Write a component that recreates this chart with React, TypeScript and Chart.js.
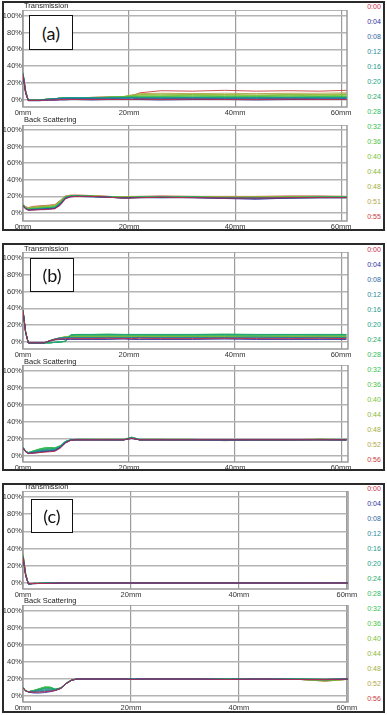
import React, { useEffect, useRef } from 'react';
import { Chart, registerables } from 'chart.js';
Chart.register(...registerables);

// ---------- data ----------
const POSITIONS_MM = [0, 0.5, 1, 2, 3, 4, 5, 6, 7, 8, 9, 10, 13, 16, 19, 20.5, 22, 26, 32, 38, 44, 50, 56, 61];
const X_TICKS_MM = [0, 20, 40, 60];
const Y_TICKS_PCT = [0, 20, 40, 60, 80, 100];

const TIMES_A = ['0:00', '0:04', '0:08', '0:12', '0:16', '0:20', '0:24', '0:28', '0:32', '0:36', '0:40', '0:44', '0:48', '0:51', '0:55'];
const TIMES_B = ['0:00', '0:04', '0:08', '0:12', '0:16', '0:20', '0:24', '0:28', '0:32', '0:36', '0:40', '0:44', '0:48', '0:52', '0:56'];
const TIMES_C = ['0:00', '0:04', '0:08', '0:12', '0:16', '0:20', '0:24', '0:28', '0:32', '0:36', '0:40', '0:44', '0:48', '0:52', '0:56'];

const SERIES_COLORS = ['#c22c48', '#2e2e9e', '#2d669f', '#248898', '#1f998e', '#20a284', '#22aa62', '#2cba58', '#34c04e', '#4cc042', '#78c034', '#8cb638', '#a0ae40', '#b2a64c', '#c83a3a'];

const A_TRANSMISSION = [
  [30, 8, -1, -1, -1, -1, -0.5, -0.5, 0, 0, 0, 0, 0, 0, 0, 0, 0.5, 0, 0.5, 0, 0, 0.5, 0, 0],
  [28, 7, -1.5, -1.5, -1.5, -1, -1, -1, -0.5, -0.5, 0, 0, -0.5, 0, 0, 0, 0, -0.5, 0, 0, -0.5, 0, 0, 0],
  [31, 9, -1, -1, -1, -0.5, 0, 0.5, 1, 1, 1, 1, 1, 1, 1.5, 1.5, 1, 1, 1.5, 1, 1, 1.5, 1, 1],
  [29, 8, -1, -1, -1, -0.5, 0, 0.5, 1, 1.5, 1.5, 1.5, 1.5, 1.5, 1.5, 2, 1.5, 1.5, 1.5, 1.5, 2, 1.5, 1.5, 1.5],
  [30, 9, -1, -1, -1, -0.5, 0.5, 1, 1.5, 1.5, 2, 2, 1.5, 2, 2, 2, 2, 2, 2, 1.5, 2, 2, 2, 2],
  [32, 10, -1, -1, -1, 0, 0.5, 1, 1.5, 2, 2, 2, 2, 2, 2, 2.5, 2, 2, 2, 2, 2, 2, 2.5, 2],
  [30, 9, -1, -1, -1, 0, 0.5, 1, 1.5, 2, 2, 2, 2, 2.5, 2.5, 2.5, 2.5, 2, 2.5, 2.5, 2, 2.5, 2.5, 2.5],
  [29, 8, -1, -1, -0.5, 0, 0.5, 1, 1.5, 2, 2, 2, 2, 2.5, 2.5, 2.5, 2.5, 2.5, 2.5, 2.5, 2.5, 2.5, 2.5, 2.5],
  [31, 9, -1, -1, -0.5, 0, 0.5, 1, 1.5, 2, 2, 2, 2, 2.5, 2.5, 3, 3, 3, 3, 3, 3, 3, 3, 3],
  [30, 9, -1, -1, -0.5, 0, 0.5, 1, 1.5, 1.5, 2, 2, 2, 2.5, 3, 3.5, 3.5, 3.5, 4, 3.5, 3.5, 4, 3.5, 3.5],
  [30, 9, -1, -1, -0.5, 0, 0.5, 1, 1.5, 1.5, 2, 2, 2, 2.5, 3, 4, 4.5, 4.5, 5, 4.5, 4.5, 5, 4.5, 5],
  [31, 10, -1, -1, -0.5, 0, 0.5, 1, 1.5, 1.5, 2, 2, 2, 2.5, 3.5, 4.5, 5.5, 5.5, 6, 5.5, 5, 6, 5.5, 6],
  [30, 9, -1, -1, -0.5, 0, 0.5, 1, 1.5, 1.5, 2, 2, 2.5, 3, 3.5, 5, 6, 6.5, 6.5, 6, 6.5, 6.5, 6, 7],
  [31, 10, -1, -1, -0.5, 0, 0.5, 1, 1.5, 1.5, 2, 2, 2.5, 3, 3.5, 5.5, 7, 7.5, 7, 7.5, 7, 7.5, 7.5, 8],
  [32, 11, -1, -1, -0.5, 0, 0.5, 1, 1.5, 1.5, 2, 2, 2.5, 3, 3.5, 4, 8, 10.5, 10, 11, 10, 10.5, 10, 11],
];

const A_BACKSCATTER = [
  [8, 5, 3.5, 3.5, 4, 4, 4.5, 5, 9, 17, 19.5, 20, 20, 19, 18, 18, 18.5, 19, 18.5, 18, 18, 18.5, 18.5, 18.5],
  [8.5, 5, 3.5, 4, 4, 4.5, 5, 5.5, 10, 17.5, 19.5, 20, 20, 19, 18, 18.5, 18.5, 18.5, 18.5, 17.5, 16.5, 18, 18.5, 18.5],
  [9, 5, 3.5, 4, 4.5, 4.5, 5, 5.5, 10, 18, 20, 20, 19.5, 19, 18, 18.5, 18.5, 19, 18.5, 18, 17.5, 18, 18.5, 18.5],
  [9, 5.5, 4, 4, 4.5, 5, 5, 6, 10.5, 18, 20, 20, 19.5, 19, 18, 18, 18.5, 18.5, 18.5, 18, 18, 18, 18.5, 18.5],
  [9, 5.5, 4, 4.5, 5, 5, 5.5, 6, 11, 18, 20, 20, 20, 19, 18.5, 18.5, 19, 18.5, 19, 18, 18, 18.5, 18.5, 18.5],
  [9.5, 5.5, 4, 4.5, 5, 5.5, 5.5, 6.5, 11, 18.5, 20, 20, 20, 19, 18.5, 18.5, 19, 19, 19, 18.5, 18, 18.5, 19, 19],
  [9.5, 5.5, 4, 4.5, 5, 5.5, 6, 6.5, 11.5, 18.5, 20, 20.5, 20, 19, 18.5, 18.5, 19, 19, 19, 18.5, 18.5, 18.5, 19, 19],
  [9.5, 6, 4.5, 5, 5.5, 6, 6, 7, 12, 19, 20, 20.5, 20, 19.5, 18.5, 18.5, 19, 19, 19, 18.5, 18.5, 18.5, 19, 19],
  [10, 6, 4.5, 5, 5.5, 6, 6.5, 7, 12, 19, 20.5, 20.5, 20, 19.5, 18.5, 19, 19, 19, 19, 18.5, 18.5, 19, 19, 19],
  [10, 6, 5, 5.5, 6, 6.5, 7, 7.5, 12.5, 19, 20.5, 20.5, 20, 19.5, 19, 19, 19, 19.5, 19, 18.5, 18.5, 19, 19, 19],
  [10, 6.5, 5, 6, 6.5, 7, 7.5, 8, 13, 19.5, 20.5, 21, 20.5, 19.5, 19, 19, 19.5, 19.5, 19.5, 19, 19, 19, 19.5, 19.5],
  [10, 6.5, 5.5, 6.5, 7, 7.5, 8, 8.5, 13.5, 19.5, 21, 21, 20.5, 19.5, 19, 19, 19.5, 19.5, 19.5, 19, 19, 19.5, 19.5, 19.5],
  [10.5, 7, 6, 7, 7.5, 8, 8.5, 9, 14, 20, 21, 21, 20.5, 20, 19, 19.5, 19.5, 20, 19.5, 19, 19.5, 19.5, 19.5, 19.5],
  [10.5, 7, 6, 7.5, 8, 8.5, 9, 9.5, 14.5, 20, 21, 21.5, 21, 20, 19.5, 19.5, 20, 20, 20, 19.5, 19.5, 20, 20, 20],
  [11, 7.5, 6.5, 8, 8.5, 9, 9.5, 10, 15, 20.5, 21.5, 21.5, 21, 20, 19.5, 20, 20, 20.5, 20, 20, 20, 20.5, 20.5, 20],
];

const B_TRANSMISSION = [
  [38, 12, -1, -1, -1, -1, 1.5, 3, 3.5, 4, 4, 4, 4, 4.5, 4, 4, 4.5, 4, 4, 4.5, 4, 4, 4.5, 4],
  [36, 11, -1, -1, -1, -1, 1, 2.5, 3, 3, 3, 3, 3, 3, 3.5, 3, 3, 3, 3, 3.5, 3, 3, 3, 3],
  [37, 12, -1, -1, -1, -1, 1.5, 3, 4, 4.5, 4.5, 4.5, 4.5, 4.5, 4.5, 4.5, 5, 4.5, 4.5, 4.5, 4.5, 5, 4.5, 4.5],
  [38, 12, -1, -1, -1, -1, 1.5, 3.5, 4.5, 5, 5, 5, 5, 5, 5, 5, 5, 5, 5.5, 5, 5, 5, 5.5, 5],
  [36, 11, -1, -1, -1, -1, 1.5, 3.5, 5, 5.5, 5.5, 5.5, 5.5, 5.5, 5.5, 5.5, 5.5, 5.5, 5.5, 5.5, 6, 5.5, 5.5, 5.5],
  [37, 12, -1, -1, -1, -1, -1, -0.5, 0, 1, 8, 8.5, 8.5, 8.5, 8.5, 8.5, 8.5, 8.5, 8.5, 8.5, 8.5, 8.5, 8.5, 8.5],
  [38, 12, -1, -1, -1, -1, -1, -0.5, 0, 1, 8.5, 9, 9, 9, 9, 9, 9, 9, 9, 9, 9, 9, 9, 9],
  [37, 11, -1, -1, -1, -1, -1, -0.5, 0, 1, 8.5, 9, 9, 9.5, 9, 9, 9, 9, 9, 9.5, 9, 9, 9, 9],
  [36, 11, -1, -1, -1, -1, -1, -0.5, 0, 1, 8, 8.5, 8.5, 8.5, 8.5, 8.5, 8.5, 8.5, 8.5, 8.5, 8.5, 8.5, 9, 8.5],
  [38, 12, -1, -1, -1, -1, -1, -0.5, 0, 0.5, 7.5, 8, 8, 8, 8, 8, 8, 8, 8, 8, 8, 8.5, 8, 8],
  [37, 12, -1, -1, -1, -1, 0.5, 2.5, 4.5, 6, 7, 7, 7, 7, 7, 7, 7, 7.5, 7, 7, 7, 7, 7.5, 7],
  [36, 11, -1, -1, -1, -1, 1, 3, 5, 6.5, 7, 7, 7, 7, 7, 7, 7, 7, 7, 7, 7, 7, 7, 7],
  [38, 12, -1, -1, -1, -1, 1, 3.5, 5, 6, 6.5, 6.5, 6.5, 6.5, 6.5, 6.5, 6.5, 6.5, 6.5, 6.5, 6.5, 6.5, 6.5, 6.5],
  [37, 11, -1, -1, -1, -1, 1.5, 3.5, 5, 6, 6, 6, 6, 6, 6, 6, 6, 6, 6, 6, 6, 6, 6, 6],
  [36, 11, -1, -1, -1, -1, 1.5, 3.5, 5, 5.5, 6, 6, 5.5, 6, 6, 5.5, 6, 6, 6, 5.5, 6, 6, 5.5, 6],
];

const B_BACKSCATTER = [
  [9.5, 5, 3, 3.5, 4, 4.5, 5, 5.5, 9, 15, 18.5, 19, 19, 19, 19, 21, 19, 19, 19, 19, 19, 19, 19, 19],
  [9.5, 5, 3, 3.5, 4, 5, 5.5, 6, 10, 15.5, 18.5, 19, 19, 19, 19, 20.5, 19, 19, 19, 19, 19, 19, 19, 19],
  [9.5, 5, 3, 4, 5, 5.5, 6, 6.5, 10, 16, 18.5, 19, 19, 19, 19, 21, 19, 19, 19, 18.5, 19, 19, 19.5, 19],
  [9.5, 5, 3.5, 4, 5, 6, 6.5, 7, 10.5, 16, 19, 19, 19, 19, 19, 21, 19, 19, 19, 19, 19, 19, 19, 19],
  [10, 5.5, 3.5, 4.5, 6, 6.5, 7, 7.5, 11, 16.5, 19, 19, 19, 19, 19, 21.5, 19, 19, 19, 19, 19, 19, 19, 19],
  [10, 5.5, 3.5, 5, 6.5, 7.5, 8, 8, 11, 17, 19, 19.5, 19.5, 19, 19, 21.5, 19, 19, 19, 18.5, 19, 19, 19, 19],
  [10, 5.5, 3.5, 5.5, 7, 8, 9, 9, 11.5, 17, 19, 19.5, 19.5, 19.5, 19.5, 22, 19.5, 19.5, 19, 19, 19, 19, 19, 19],
  [10, 6, 4, 6, 7.5, 9, 9.5, 9, 12, 17, 19, 19.5, 19.5, 19.5, 19.5, 22, 19.5, 19.5, 19.5, 19, 19, 19, 19.5, 19],
  [10, 6, 4, 6, 8, 9.5, 10, 9.5, 12, 17, 19, 19.5, 19.5, 19.5, 19.5, 22, 19.5, 19.5, 19.5, 19, 19, 19, 19.5, 19.5],
  [10, 6, 4, 6, 8, 9.5, 10, 9.5, 12, 17, 19, 19.5, 19.5, 19.5, 19.5, 22, 19.5, 19.5, 19.5, 18, 19, 19, 19.5, 19.5],
  [10, 5.5, 3.5, 5, 7, 8, 8.5, 8.5, 11.5, 17, 19, 19.5, 19.5, 19.5, 19.5, 21.5, 19.5, 19.5, 19.5, 19, 19, 19, 19.5, 19.5],
  [9.5, 5.5, 3.5, 4.5, 6, 7, 7.5, 8, 11, 16.5, 19, 19.5, 19, 19, 19, 21.5, 19, 19, 19, 19, 19, 19, 19.5, 19],
  [9.5, 5, 3, 4, 5.5, 6.5, 7, 7.5, 11, 16.5, 19, 19, 19, 19, 19, 21, 19, 19, 19, 19, 19, 19, 20, 19],
  [9.5, 5, 3, 4, 5, 6, 6.5, 7, 10.5, 16, 18.5, 19, 19, 19, 19, 21, 19, 19, 19, 19, 19, 19, 19.5, 19],
  [9.5, 5, 3, 3.5, 4.5, 5.5, 6, 6.5, 10, 16, 18.5, 19, 19, 19, 19, 21, 19, 19, 19, 19, 19, 19, 19, 19],
];

const C_TRANSMISSION = [
  [30, 9, -1, -0.5, -0.5, -0.5, -0.5, 0, 0, 0, 0, 0, 0, 0, 0, 0, 0, 0, 0, 0, 0, 0, 0, 0],
  [29, 8, -1, -1, -0.5, -0.5, -0.5, -0.5, 0, 0, 0, 0, 0, 0, 0, 0, 0, 0, 0, 0, 0, 0, 0, 0],
  [31, 9, -1, -0.5, -0.5, -0.5, 0, 0, 0, 0, 0, 0, 0, 0, 0, 0, 0, 0, 0, 0, 0, 0, 0, 0],
  [30, 9, -1, -0.5, -0.5, -0.5, 0, 0, 0, 0, 0, 0, 0, 0, 0, 0, 0, 0, 0, 0, 0, 0, 0.5, 0.5],
  [32, 10, -1, -0.5, -0.5, -0.5, 0, 0, 0, 0, 0, 0, 0, 0, 0, 0, 0, 0, 0, 0, 0, 0, 0.5, 0.5],
  [30, 9, -1, -0.5, -0.5, 0, 0, 0, 0, 0, 0, 0, 0, 0, 0, 0, 0, 0, 0, 0, 0, 0, 0, 0.5],
  [31, 9, -1, -0.5, -0.5, 0, 0, 0, 0, 0, 0, 0, 0, 0, 0, 0, 0, 0, 0, 0, 0, 0, 0, 0],
  [30, 9, -1, -0.5, -0.5, 0, 0, 0, 0, 0, 0, 0, 0, 0, 0, 0, 0, 0, 0, 0, 0, 0, 0, 0],
  [32, 10, -1, -0.5, -0.5, 0, 0, 0, 0, 0, 0, 0, 0, 0, 0, 0, 0, 0, 0, 0, 0, 0, 0, 0],
  [31, 9, -1, -0.5, -0.5, 0, 0, 0, 0, 0, 0, 0, 0, 0, 0, 0, 0, 0, 0, 0, 0, 0, 0, 0],
  [33, 10, -1, -0.5, -0.5, 0, 0, 0, 0, 0, 0, 0, 0, 0, 0, 0, 0, 0, 0, 0, 0, 0, 0, 0],
  [32, 10, -1, -0.5, -0.5, 0, 0, 0, 0, 0, 0, 0, 0, 0, 0, 0, 0, 0, 0, 0, 0, 0, 0, 0],
  [34, 11, -1, -0.5, -0.5, 0, 0, 0, 0, 0, 0, 0, 0, 0, 0, 0, 0, 0, 0, 0, 0, 0, 0, 0],
  [35, 11, -1, -0.5, -0.5, 0, 0, 0, 0, 0, 0, 0, 0, 0, 0, 0, 0, 0, 0, 0, 0, 0, 0, 0],
  [33, 10, -1, -0.5, -0.5, 0, 0, 0, 0, 0, 0, 0, 0, 0, 0, 0, 0, 0, 0, 0, 0, 0, 0, 0],
];

const C_BACKSCATTER = [
  [9.5, 6, 5, 4.5, 4.5, 5, 5.5, 6.5, 9, 14.5, 18.5, 20, 20, 20, 20, 19.5, 20, 20, 20, 19.5, 20, 19.5, 19.5, 20],
  [9.5, 6, 4.5, 3.5, 3.5, 4, 5, 6.5, 9, 14.5, 18.5, 20, 20, 20, 20, 19.5, 20, 20, 20, 19.5, 20, 19.5, 19, 20],
  [9.5, 6, 5, 4.5, 5, 5.5, 6, 6.5, 9, 14.5, 18.5, 20, 20, 20, 20, 19.5, 20, 20, 20, 19.5, 20, 19.5, 19.5, 20],
  [9.5, 6, 5, 5, 6, 6.5, 6.5, 7, 9, 14.5, 18.5, 20, 20, 20, 20, 20, 20, 20, 20, 19.5, 20, 19.5, 19.5, 20],
  [9.5, 6, 5, 5.5, 6.5, 7.5, 7.5, 7, 9, 14.5, 18.5, 20, 20, 20, 20, 20, 20, 20, 20, 19.5, 20, 20, 19.5, 20],
  [10, 6, 5, 6, 7, 8.5, 8.5, 7.5, 9, 14.5, 18.5, 20, 20, 20, 20, 20, 20, 20, 20, 20, 20, 20, 19.5, 20],
  [10, 6, 5, 6, 7.5, 9, 9.5, 8, 9.5, 15, 19, 20, 20, 20, 20, 20, 20, 20, 20, 20, 20, 20, 19.5, 20],
  [10, 6, 5, 6.5, 8, 10, 10, 8, 9.5, 15, 19, 20, 20, 20, 20, 20, 20, 20, 20, 20, 20, 20, 19.5, 20],
  [10, 6, 5, 6.5, 8.5, 10.5, 10.5, 8, 9.5, 15, 19, 20, 20, 20, 20, 20, 20, 20, 20, 20, 20, 20, 19.5, 20],
  [10, 6, 5, 6.5, 8.5, 10.5, 10.5, 8, 9.5, 15, 19, 20, 20, 20, 20, 20, 20, 20, 20, 20, 20, 20, 19.5, 20],
  [10, 6, 5, 6.5, 8.5, 10.5, 10, 8, 9.5, 15, 19, 20, 20, 20, 20, 20, 20, 20, 20, 20, 20, 20, 18, 20],
  [10, 6, 5, 6.5, 8, 10, 10, 7.5, 9.5, 15, 19, 20, 20, 20, 20, 20, 20, 20, 20, 20, 20, 20, 18, 20],
  [10, 6, 5, 6, 7.5, 9.5, 9.5, 7.5, 9, 15, 19, 20, 20, 20, 20, 20, 20, 20, 20, 20, 19.5, 20, 18, 20],
  [10, 6, 5, 6, 7, 9, 9, 7.5, 9, 15, 19, 20, 20, 20.5, 20, 20, 20, 20, 20, 20, 19.5, 20, 17.5, 20],
  [10, 6, 5, 6, 7.5, 9.5, 9, 7.5, 9, 15, 19, 20, 20.5, 20.5, 20, 20, 20, 20.5, 20, 20, 19.5, 20, 17.5, 20],
];

// ---------- drawing ----------
const FONT = "'Liberation Sans', Arial, sans-serif";
const CANVAS_W = 360;
const XLAB_H = 14;
const PLOT_LEFT = 23;

const framePlugin = {
  id: 'frame',
  beforeDatasetsDraw(chart: any) {
    const { ctx, chartArea: a } = chart;
    ctx.save();
    ctx.strokeStyle = '#9a9a9a';
    ctx.lineWidth = 1.5;
    ctx.strokeRect(a.left, a.top, a.right - a.left, a.bottom - a.top);
    ctx.restore();
  },
};

type PlotProps = { top: number; bottom: number; y0: number; y100: number; right: number; xMax: number; series: number[][] };

function Plot({ top, bottom, y0, y100, right, xMax, series }: PlotProps) {
  const ref = useRef<HTMLCanvasElement | null>(null);
  const h = bottom - top + XLAB_H;
  useEffect(() => {
    const k = (y0 - y100) / 100;
    const yMin = -(bottom - y0) / k;
    const yMax = 100 + (y100 - top) / k;
    const tickFont = { family: FONT, size: 7.5 };
    const zeroPad = (s: any) => {
      s.paddingLeft = 0; s.paddingRight = 0; s.paddingTop = 0; s.paddingBottom = 0;
    };
    const chart = new Chart(ref.current as HTMLCanvasElement, {
      type: 'line',
      data: {
        datasets: series.map((vals, i) => ({
          data: vals.map((v, j) => ({ x: POSITIONS_MM[j], y: v })),
          borderColor: SERIES_COLORS[i],
          borderWidth: 0.9,
          pointRadius: 0,
          tension: 0,
          fill: false,
        })),
      },
      options: {
        animation: false,
        responsive: false,
        maintainAspectRatio: false,
        devicePixelRatio: 1,
        events: [],
        layout: { padding: { left: 0, top: 0, bottom: 0, right: CANVAS_W - right } },
        plugins: { legend: { display: false }, tooltip: { enabled: false } },
        scales: {
          x: {
            type: 'linear',
            min: 0,
            max: xMax,
            afterBuildTicks: (s: any) => { s.ticks = X_TICKS_MM.map((v) => ({ value: v })); },
            afterFit: (s: any) => { s.height = XLAB_H; zeroPad(s); },
            ticks: { callback: (v: any) => `${v}mm`, font: tickFont, color: '#333', padding: 1, maxRotation: 0, autoSkip: false },
            grid: { color: '#9c9c9c', lineWidth: 1.2, drawTicks: false },
            border: { display: false },
          },
          y: {
            type: 'linear',
            min: yMin,
            max: yMax,
            afterBuildTicks: (s: any) => { s.ticks = Y_TICKS_PCT.map((v) => ({ value: v })); },
            afterFit: (s: any) => { s.width = PLOT_LEFT; zeroPad(s); },
            ticks: { callback: (v: any) => `${v}%`, font: tickFont, color: '#333', padding: 1, autoSkip: false },
            grid: { color: '#b4b4b4', lineWidth: 1.5, drawTicks: false },
            border: { display: false },
          },
        },
      } as any,
      plugins: [framePlugin],
    });
    return () => chart.destroy();
  }, []);
  return (
    <canvas
      ref={ref}
      width={CANVAS_W}
      height={h}
      style={{ position: 'absolute', left: 0, top, width: CANVAS_W, height: h }}
    />
  );
}

const txt = (extra: React.CSSProperties): React.CSSProperties => ({
  position: 'absolute',
  fontFamily: FONT,
  whiteSpace: 'nowrap',
  ...extra,
});

function Title({ text, cy }: { text: string; cy: number }) {
  return <div style={txt({ left: 24, top: cy - 5, height: 10, lineHeight: '10px', fontSize: 7.5, color: '#222' })}>{text}</div>;
}

function TimeLegend({ times, firstY }: { times: string[]; firstY: number }) {
  return (
    <>
      {times.map((t, i) => (
        <div key={t} style={txt({ left: 364, width: 20, textAlign: 'center', top: firstY + 15 * i - 5, height: 10, lineHeight: '10px', fontSize: 7, color: SERIES_COLORS[i] })}>
          {t}
        </div>
      ))}
    </>
  );
}

function Tag({ text, left, top, w, h }: { text: string; left: number; top: number; w: number; h: number }) {
  return (
    <div
      style={{
        position: 'absolute', left, top, width: w, height: h, boxSizing: 'border-box',
        border: '1.5px solid #111', background: '#fff', display: 'flex', alignItems: 'center', justifyContent: 'center',
        fontFamily: "Lato, 'Open Sans', sans-serif", fontSize: 18, color: '#111',
      }}
    >
      {text}
    </div>
  );
}

function Frame({ top, bottom }: { top: number; bottom: number }) {
  return (
    <div
      style={{
        position: 'absolute', left: 2, top, width: 383, height: bottom - top, boxSizing: 'border-box',
        border: '2px solid #2a2a2a',
      }}
    />
  );
}

export default function App() {
  return (
    <div style={{ position: 'absolute', left: 0, top: 0, width: 387, height: 715, background: '#fff' }}>
      <Frame top={1} bottom={231} />
      <Frame top={243} bottom={471} />
      <Frame top={483} bottom={713} />

      <Plot top={10} bottom={107} y100={16} y0={99.5} right={347} xMax={61.1} series={A_TRANSMISSION} />
      <Plot top={125} bottom={221} y100={130} y0={213} right={347} xMax={61.1} series={A_BACKSCATTER} />
      <Plot top={252} bottom={349} y100={258} y0={342} right={348} xMax={61.3} series={B_TRANSMISSION} />
      <Plot top={365} bottom={462} y100={371} y0={456} right={348} xMax={61.3} series={B_BACKSCATTER} />
      <Plot top={491} bottom={589} y100={497} y0={583} right={348} xMax={60.2} series={C_TRANSMISSION} />
      <Plot top={605} bottom={702} y100={611} y0={696} right={348} xMax={60.2} series={C_BACKSCATTER} />

      <Title text="Transmission" cy={6} />
      <Title text="Back Scattering" cy={120} />
      <Title text="Transmission" cy={249} />
      <Title text="Back Scattering" cy={362} />
      <Title text="Transmission" cy={487} />
      <Title text="Back Scattering" cy={601} />

      <TimeLegend times={TIMES_A} firstY={7} />
      <TimeLegend times={TIMES_B} firstY={250} />
      <TimeLegend times={TIMES_C} firstY={489} />

      <Tag text="(a)" left={29} top={15} w={44} h={35} />
      <Tag text="(b)" left={30} top={258} w={44} h={34} />
      <Tag text="(c)" left={31} top={499} w={42} h={34} />
    </div>
  );
}
